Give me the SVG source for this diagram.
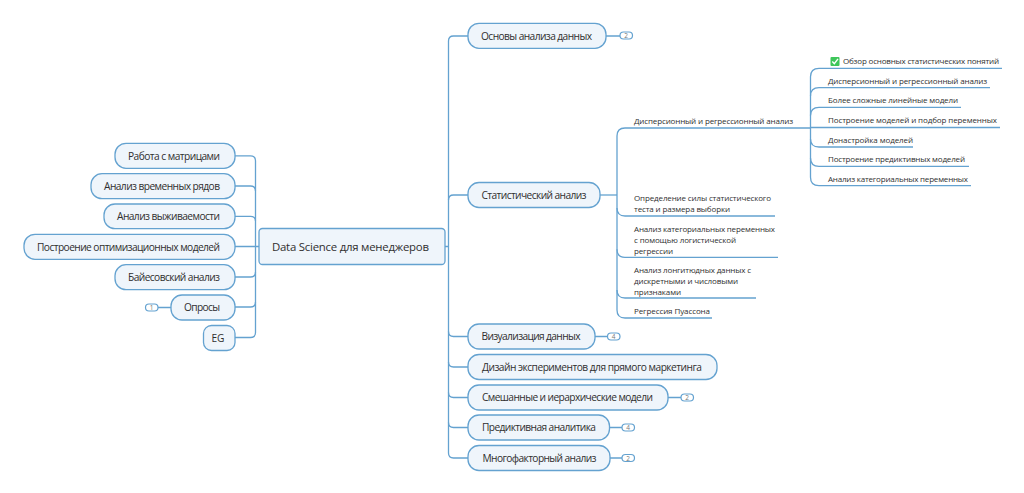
<svg xmlns="http://www.w3.org/2000/svg" width="1024" height="493" viewBox="0 0 1024 493">
<defs>
<style>
text{font-family:"Open Sans","Noto Sans","Liberation Sans",sans-serif;fill:#2f2f2f}
.n{fill:#eff5fb;stroke:#64a2d0;stroke-width:1.3}
.c{fill:none;stroke:#64a2d0;stroke-width:1.3}
.t1{font-size:10.2px;text-anchor:middle}
.t0{font-size:11.4px;text-anchor:middle}
.s{font-size:8px}
.b{fill:#fff;stroke:#64a2d0;stroke-width:1.2}
.d{font-size:6.5px;text-anchor:middle;fill:#777}
</style>
</defs>
<rect width="1024" height="493" fill="#fff"/>
<g id="connectors" class="c">
<path class="c" d="M235 155.800H250.500Q255.500 155.800 255.500 160.800V332.500Q255.500 337.500 250.500 337.500H235"/>
<path class="c" d="M235 186H250.500Q255.500 186 255.500 191M235 216.300H250.500Q255.500 216.300 255.500 221M235 246.500H259M235 277H250.500Q255.500 277 255.500 272M235 307H250.500Q255.500 307 255.500 302M171 307.500H158"/>
<path class="c" d="M445 246.500H448.500M468 36H453.500Q448.500 36 448.500 41V453Q448.500 458 453.500 458H468"/>
<path class="c" d="M468 195H453.500Q448.500 195 448.500 200M468 336.500H453.500Q448.500 336.500 448.500 331.500M468 367H453.500Q448.500 367 448.500 362M468 397.500H453.500Q448.500 397.500 448.500 392.500M468 427.500H453.500Q448.500 427.500 448.500 422.500"/>
<path class="c" d="M606 36H620M595 336.500H607M668 397.500H681M609.500 427.500H622M610 458H622"/>
<path class="c" d="M600 195H617"/>
<path class="c" d="M810.500 128H625Q617 128 617 136V310Q617 318 625 318H712"/>
<path class="c" d="M617 208Q617 216 625 216H775M617 249.300Q617 257.300 625 257.300H778M617 290Q617 298 625 298H756"/>
<path class="c" d="M828 68.300H819Q810.500 68.300 810.500 76.800V177.200Q810.500 185.700 819 185.700H971"/>
<path class="c" d="M828 68.300H1002M810.500 96Q810.500 87.700 819 87.700H990M810.500 115.500Q810.500 107.300 819 107.300H961M810.500 127.500H1000M810.500 139Q810.500 147 819 147H913M810.500 158Q810.500 166.300 819 166.300H969"/>
</g>
<g id="root"><rect class="n" x="259" y="228.500" width="186" height="36" rx="3.500"/><text class="t0" x="350.500" y="250.500" textLength="157">Data Science для менеджеров</text></g>
<g id="l1"><rect class="n" x="115" y="143.300" width="120" height="25" rx="11"/><text class="t1" x="174" y="159.500" textLength="92">Работа с матрицами</text></g>
<g id="l2"><rect class="n" x="91" y="173.700" width="144" height="25" rx="11"/><text class="t1" x="162" y="189.800" textLength="116">Анализ временных рядов</text></g>
<g id="l3"><rect class="n" x="104" y="204" width="131" height="24.700" rx="11"/><text class="t1" x="168.500" y="220" textLength="103">Анализ выживаемости</text></g>
<g id="l4"><rect class="n" x="24" y="234.300" width="211" height="25" rx="11"/><text class="t1" x="128.500" y="250.500" textLength="183">Построение оптимизационных моделей</text></g>
<g id="l5"><rect class="n" x="115" y="264.700" width="120" height="25" rx="11"/><text class="t1" x="174" y="280.800" textLength="92">Байесовский анализ</text></g>
<g id="l6"><rect class="n" x="171" y="295" width="64" height="25" rx="11"/><text class="t1" x="202" y="311" textLength="36">Опросы</text><rect class="b" x="145.500" y="304" width="12.500" height="7" rx="3.500"/><text class="d" x="151.700" y="310">1</text></g>
<g id="l7"><rect class="n" x="203.500" y="325.500" width="31.500" height="25" rx="8"/><text class="t1" x="218" y="341.500">EG</text></g>
<g id="r1"><rect class="n" x="468" y="23.300" width="138" height="25" rx="11"/><text class="t1" x="536.500" y="39.500" textLength="111">Основы анализа данных</text><rect class="b" x="620" y="32" width="12.500" height="7" rx="3.500"/><text class="d" x="626.200" y="38">2</text></g>
<g id="r2"><rect class="n" x="468" y="182.500" width="132" height="25" rx="11"/><text class="t1" x="534" y="198.700" textLength="105">Статистический анализ</text></g>
<g id="r3"><rect class="n" x="468" y="324" width="127" height="25" rx="11"/><text class="t1" x="531" y="340" textLength="99">Визуализация данных</text><rect class="b" x="607.500" y="333" width="12.500" height="7" rx="3.500"/><text class="d" x="613.700" y="339">4</text></g>
<g id="r4"><rect class="n" x="468" y="354.500" width="249" height="25" rx="11"/><text class="t1" x="592" y="370.500" textLength="220">Дизайн экспериментов для прямого маркетинга</text></g>
<g id="r5"><rect class="n" x="468" y="385" width="200" height="25" rx="11"/><text class="t1" x="567.500" y="401" textLength="171">Смешанные и иерархические модели</text><rect class="b" x="681" y="394" width="12.500" height="7" rx="3.500"/><text class="d" x="687.200" y="400">2</text></g>
<g id="r6"><rect class="n" x="468" y="415" width="141.500" height="25" rx="11"/><text class="t1" x="539" y="431" textLength="114">Предиктивная аналитика</text><rect class="b" x="622" y="424" width="12.500" height="7" rx="3.500"/><text class="d" x="628.200" y="430">4</text></g>
<g id="r7"><rect class="n" x="468" y="445.500" width="142" height="25" rx="11"/><text class="t1" x="539.500" y="461.500" textLength="114">Многофакторный анализ</text><rect class="b" x="622" y="454.500" width="12.500" height="7" rx="3.500"/><text class="d" x="628.200" y="460.500">2</text></g>
<g id="s1"><text class="s" x="634" y="123.500" textLength="159">Дисперсионный и регрессионный анализ</text></g>
<g id="s2"><text class="s"><tspan x="634" y="201" textLength="137">Определение силы статистического</tspan><tspan x="634" y="212" textLength="96">теста и размера выборки</tspan></text></g>
<g id="s3"><text class="s"><tspan x="634" y="231.500" textLength="141">Анализ категориальных переменных</tspan><tspan x="634" y="242.500" textLength="102">с помощью логистической</tspan><tspan x="634" y="253.500" textLength="39">регрессии</tspan></text></g>
<g id="s4"><text class="s"><tspan x="634" y="272.500" textLength="117">Анализ лонгитюдных данных с</tspan><tspan x="634" y="283.500" textLength="104">дискретными и числовыми</tspan><tspan x="634" y="294.500" textLength="47">признаками</tspan></text></g>
<g id="s5"><text class="s" x="634" y="313.500" textLength="76">Регрессия Пуассона</text></g>
<g id="c1"><rect x="830.500" y="57" width="9" height="9" rx="1" fill="#3ec65a"/><path d="M832.300 61.500L834.300 63.700L838 58.800" fill="none" stroke="#fff" stroke-width="1.400"/><text class="s" x="843" y="63.500" textLength="156">Обзор основных статистических понятий</text></g>
<g id="c2"><text class="s" x="828" y="83.500" textLength="159">Дисперсионный и регрессионный анализ</text></g>
<g id="c3"><text class="s" x="828" y="103" textLength="130">Более сложные линейные модели</text></g>
<g id="c4"><text class="s" x="828" y="122.500" textLength="169">Построение моделей и подбор переменных</text></g>
<g id="c5"><text class="s" x="828" y="142.500" textLength="85">Донастройка моделей</text></g>
<g id="c6"><text class="s" x="828" y="162" textLength="137">Построение предиктивных моделей</text></g>
<g id="c7"><text class="s" x="828" y="181.500" textLength="140">Анализ категориальных переменных</text></g>
</svg>
